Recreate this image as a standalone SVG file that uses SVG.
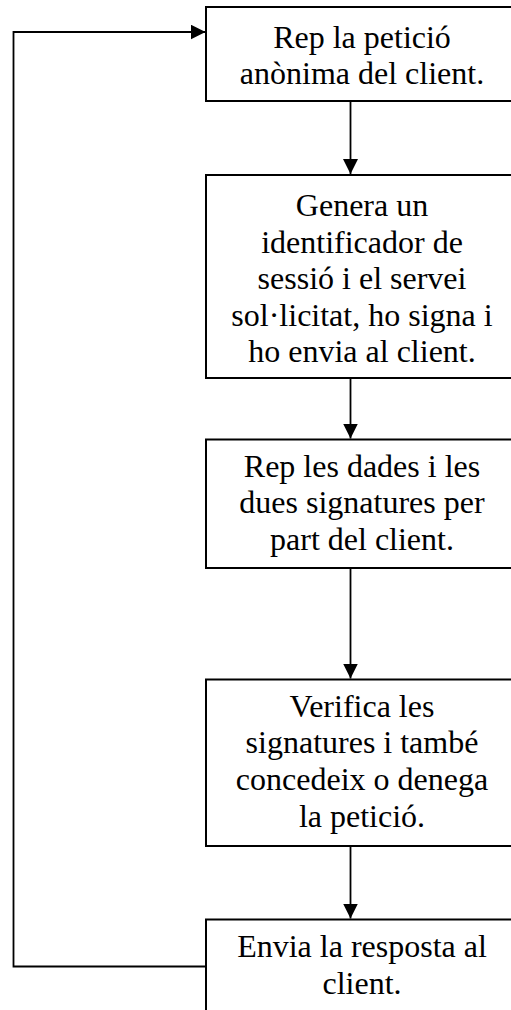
<svg xmlns="http://www.w3.org/2000/svg" width="511" height="1010" viewBox="0 0 511 1010">
<style>
.box{fill:#fff;stroke:#000;stroke-width:2}
.lbl{font-family:"Liberation Serif","Times New Roman",serif;font-size:32px;fill:#000;text-anchor:middle}
.conn{fill:none;stroke:#000;stroke-width:1.8}
</style>
<defs>
<marker id="arr" markerUnits="userSpaceOnUse" markerWidth="16" markerHeight="16" refX="15" refY="7.5" orient="auto">
<path d="M0,0 L15,7.5 L0,15 Z" fill="#000"/>
</marker>
</defs>
<rect width="511" height="1010" fill="#fff"/>
<g id="connectors">
<line class="conn" x1="350.5" y1="101" x2="350.5" y2="174" marker-end="url(#arr)"/>
<line class="conn" x1="350.5" y1="378" x2="350.5" y2="438.5" marker-end="url(#arr)"/>
<line class="conn" x1="350.5" y1="568" x2="350.5" y2="678.5" marker-end="url(#arr)"/>
<line class="conn" x1="350.5" y1="846" x2="350.5" y2="918.5" marker-end="url(#arr)"/>
<polyline class="conn" points="206,966.5 13.5,966.5 13.5,32 205.5,32" marker-end="url(#arr)"/>
</g>
<g id="n1">
<rect class="box" x="206" y="7" width="313" height="94"/>
<text class="lbl" x="362" y="47.5">Rep la petició</text>
<text class="lbl" x="362" y="83.5">anònima del client.</text>
</g>
<g id="n2">
<rect class="box" x="206" y="175" width="313" height="203"/>
<text class="lbl" x="362" y="216">Genera un</text>
<text class="lbl" x="362" y="252.5">identificador de</text>
<text class="lbl" x="362" y="289">sessió i el servei</text>
<text class="lbl" x="362" y="325.5">sol·licitat, ho signa i</text>
<text class="lbl" x="362" y="362">ho envia al client.</text>
</g>
<g id="n3">
<rect class="box" x="206" y="439.5" width="313" height="128.5"/>
<text class="lbl" x="362" y="476.5">Rep les dades i les</text>
<text class="lbl" x="362" y="513">dues signatures per</text>
<text class="lbl" x="362" y="549.5">part del client.</text>
</g>
<g id="n4">
<rect class="box" x="206" y="679.5" width="313" height="166.5"/>
<text class="lbl" x="362" y="716.5">Verifica les</text>
<text class="lbl" x="362" y="753">signatures i també</text>
<text class="lbl" x="362" y="789.5">concedeix o denega</text>
<text class="lbl" x="362" y="826.5">la petició.</text>
</g>
<g id="n5">
<rect class="box" x="206" y="919.5" width="313" height="110"/>
<text class="lbl" x="362" y="956.5">Envia la resposta al</text>
<text class="lbl" x="362" y="994">client.</text>
</g>
</svg>
